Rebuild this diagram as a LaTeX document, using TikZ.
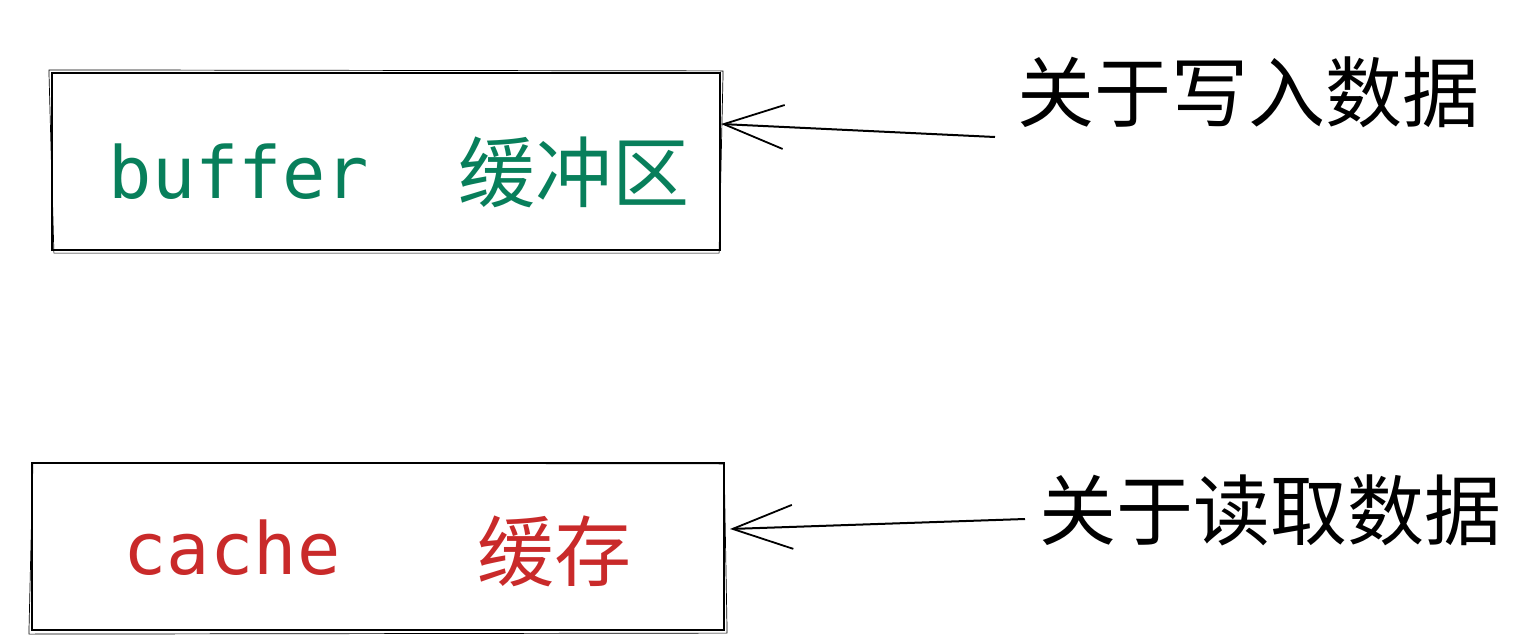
\documentclass[tikz,border=0pt]{standalone}
\usepackage{fontspec}
\setmonofont{DejaVu Sans Mono}
\newfontfamily\cjk{Noto Sans CJK SC}
\usetikzlibrary{arrows.meta}
\definecolor{bufgreen}{HTML}{087F5B}
\definecolor{cachered}{HTML}{C92A2A}
\tikzset{
  sketchbox/.style={draw=black, line width=1.1pt, inner sep=0pt},
  sketchline/.style={draw=black, line width=0.35pt},
  label/.style={inner sep=0pt, anchor=center, font=\fontsize{36pt}{40pt}\selectfont},
  conn/.style={draw=black, line width=1pt, -{Straight Barb[length=30pt,width=22pt,line width=0.9pt]}}
}
\begin{document}
\begin{tikzpicture}[x=0.5pt,y=-0.5pt]
\useasboundingbox (0,0) rectangle (1517,638);
\fill[white] (0,0) rectangle (1517,638);
% boxes
\node[sketchbox, minimum width=334pt, minimum height=88.5pt] (b1) at (386,161.5) {};
\node[sketchbox, minimum width=346pt, minimum height=83.5pt] (b2) at (378,546.5) {};
% second strokes for a hand-drawn look
\draw[sketchline] ([xshift=-1pt,yshift=1pt]b1.north west) -- ([xshift=1pt,yshift=0.5pt]b1.north east)
  -- ([xshift=-1pt,yshift=-1pt]b1.south east) -- ([xshift=1.5pt,yshift=-1pt]b1.south west) -- cycle;
\draw[sketchline] ([xshift=1pt,yshift=-0.5pt]b2.north west) -- ([xshift=-0.5pt,yshift=-1pt]b2.north east)
  -- ([xshift=1pt,yshift=-1pt]b2.south east) -- ([xshift=-1pt,yshift=-1.5pt]b2.south west) -- cycle;
% texts in boxes
\node[label, text=bufgreen, font=\fontsize{36pt}{40pt}\selectfont\ttfamily] (buf) at (239,172) {buffer};
\node[label, text=bufgreen, font=\fontsize{38.5pt}{40pt}\selectfont\cjk] (bufzh) at (574,172) {缓冲区};
\node[label, text=cachered, font=\fontsize{36pt}{40pt}\selectfont\ttfamily] (cac) at (232,548) {cache};
\node[label, text=cachered, font=\fontsize{38.5pt}{40pt}\selectfont\cjk] (caczh) at (554,551) {缓存};
% side labels
\node[label, font=\fontsize{38.5pt}{40pt}\selectfont\cjk] (w) at (1248,92) {关于写入数据};
\node[label, font=\fontsize{38.5pt}{40pt}\selectfont\cjk] (r) at (1270,510) {关于读取数据};
% connectors
\coordinate (w1) at (995,137);
\coordinate (w2) at (b1.east |- 0,124);
\coordinate (r1) at (1025,519);
\coordinate (r2) at (730,529);
\draw[conn] (w1) -- (w2);
\draw[conn] (r1) -- (r2);
\end{tikzpicture}
\end{document}
